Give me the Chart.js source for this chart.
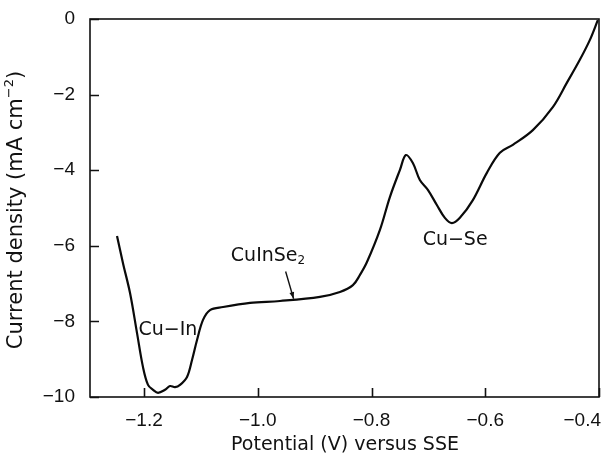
<!DOCTYPE html>
<html>
<head>
<meta charset="utf-8">
<script src="https://cdn.jsdelivr.net/npm/chart.js@4.4.1/dist/chart.umd.min.js"></script>
<style>
  html, body { margin: 0; padding: 0; background: #fff; }
  #wrap { width: 611px; height: 460px; }
</style>
</head>
<body>
<div id="wrap"><canvas id="c" width="611" height="460"></canvas></div>
<script>
// Potential (V vs SSE) and current density (mA cm^-2) of the voltammetric sweep
const potential = [
  -1.2475, -1.237, -1.2246, -1.2123, -1.2018, -1.193, -1.1842, -1.1754, -1.163,
  -1.1543, -1.1455, -1.1367, -1.1244, -1.1156, -1.1068, -1.0963, -1.084, -1.0612,
  -1.0137, -0.961, -0.8907, -0.8555, -0.8327, -0.8203, -0.808, -0.7852, -0.7677,
  -0.75, -0.7395, -0.7273, -0.715, -0.7009, -0.6851, -0.671, -0.6587, -0.6446,
  -0.6218, -0.5972, -0.5743, -0.5515, -0.5163, -0.4812, -0.4566, -0.4337, -0.4162, -0.4021
];
const currentDensity = [
  -5.74, -6.46, -7.25, -8.31, -9.21, -9.68, -9.81, -9.89, -9.81,
  -9.71, -9.74, -9.68, -9.47, -9.02, -8.49, -7.96, -7.70, -7.62,
  -7.51, -7.46, -7.35, -7.22, -7.04, -6.77, -6.43, -5.58, -4.71,
  -3.99, -3.60, -3.81, -4.26, -4.52, -4.92, -5.26, -5.40, -5.26,
  -4.79, -4.07, -3.54, -3.33, -2.94, -2.33, -1.69, -1.08, -0.56, -0.03
];
const xTicks = [-1.2, -1.0, -0.8, -0.6, -0.4];
const yTicks = [0, -2, -4, -6, -8, -10];

// Phase labels: text and anchor position in data units
const phaseNames = ['Cu\u2212In', 'Cu\u2212Se'];
const phaseX = [-1.158, -0.653];
const phaseY = [-8.22, -5.85];

const minus = v => (v < 0 ? '\u2212' : '');
const fmtX = v => minus(v) + Math.abs(v).toFixed(1);
const fmtY = v => minus(v) + Math.abs(v).toFixed(0);
const TICK_FONT = '"Liberation Sans", Arial, Helvetica, sans-serif';
const TEXT_FONT = '"DejaVu Sans", "Liberation Sans", Arial, sans-serif';

const frame = {
  id: 'frame',
  afterDraw(chart) {
    const { ctx, chartArea: a, scales: { x, y } } = chart;
    ctx.save();
    ctx.strokeStyle = '#111';
    ctx.lineWidth = 1.6;
    ctx.strokeRect(a.left, a.top, a.right - a.left, a.bottom - a.top);
    // inward tick marks
    ctx.beginPath();
    xTicks.forEach(v => {
      const px = Math.round(x.getPixelForValue(v)) + 0.5;
      ctx.moveTo(px, a.bottom); ctx.lineTo(px, a.bottom - 9);
    });
    yTicks.forEach(v => {
      const py = Math.round(y.getPixelForValue(v)) + 0.5;
      ctx.moveTo(a.left, py); ctx.lineTo(a.left + 9, py);
    });
    ctx.stroke();

    ctx.fillStyle = '#111';
    ctx.textBaseline = 'middle';

    // x tick labels: centred under the tick, the last one kept inside the frame
    ctx.font = '19px ' + TICK_FONT;
    xTicks.forEach((v, i) => {
      const last = i === xTicks.length - 1;
      ctx.textAlign = last ? 'right' : 'center';
      ctx.fillText(fmtX(v), x.getPixelForValue(v) + (last ? 2 : 0), a.bottom + 24);
    });

    ctx.textAlign = 'center';
    // axis titles
    ctx.font = '19px ' + TEXT_FONT;
    ctx.fillText('Potential (V) versus SSE', 345, 445);
    ctx.save();
    ctx.translate(17, 210);
    ctx.rotate(-Math.PI / 2);
    ctx.textAlign = 'left';
    const base = 'Current density (mA cm';
    ctx.font = '21px ' + TEXT_FONT;
    const wBase = ctx.measureText(base).width;
    ctx.font = '13px ' + TEXT_FONT;
    const wSup = ctx.measureText('\u22122').width;
    ctx.font = '21px ' + TEXT_FONT;
    const wEnd = ctx.measureText(')').width;
    const sx = -(wBase + wSup + wEnd) / 2;
    ctx.fillText(base, sx, 0);
    ctx.font = '13px ' + TEXT_FONT;
    ctx.fillText('\u22122', sx + wBase, -7);
    ctx.font = '21px ' + TEXT_FONT;
    ctx.fillText(')', sx + wBase + wSup, 0);
    ctx.restore();

    // phase labels
    ctx.font = '19px ' + TEXT_FONT;
    phaseNames.forEach((t, i) => {
      ctx.fillText(t, x.getPixelForValue(phaseX[i]), y.getPixelForValue(phaseY[i]));
    });
    // CuInSe2 label with subscript and arrow to the plateau
    const lx = x.getPixelForValue(-0.982), ly = y.getPixelForValue(-6.27);
    ctx.textAlign = 'left';
    const wMain = ctx.measureText('CuInSe').width;
    ctx.font = '12px ' + TEXT_FONT;
    const wSub = ctx.measureText('2').width;
    const sx2 = lx - (wMain + wSub) / 2;
    ctx.font = '19px ' + TEXT_FONT;
    ctx.fillText('CuInSe', sx2, ly);
    ctx.font = '12px ' + TEXT_FONT;
    ctx.fillText('2', sx2 + wMain, ly + 5);

    const ax0 = x.getPixelForValue(-0.951), ay0 = y.getPixelForValue(-6.68);
    const ax1 = x.getPixelForValue(-0.937), ay1 = y.getPixelForValue(-7.40);
    ctx.lineWidth = 1.4;
    ctx.beginPath();
    ctx.moveTo(ax0, ay0); ctx.lineTo(ax1, ay1);
    ctx.stroke();
    const ang = Math.atan2(ay1 - ay0, ax1 - ax0);
    ctx.beginPath();
    ctx.moveTo(ax1, ay1);
    ctx.lineTo(ax1 - 7 * Math.cos(ang - 0.35), ay1 - 7 * Math.sin(ang - 0.35));
    ctx.lineTo(ax1 - 7 * Math.cos(ang + 0.35), ay1 - 7 * Math.sin(ang + 0.35));
    ctx.closePath();
    ctx.fill();
    ctx.restore();
  }
};

new Chart(document.getElementById('c'), {
  type: 'line',
  data: {
    datasets: [{
      data: potential.map((p, i) => ({ x: p, y: currentDensity[i] })),
      borderColor: '#0a0a0a',
      borderWidth: 2.2,
      pointRadius: 0,
      tension: 0.35,
      fill: false
    }]
  },
  options: {
    responsive: false,
    animation: false,
    layout: { padding: { top: 19, right: 12, left: 0, bottom: 0 } },
    plugins: { legend: { display: false }, tooltip: { enabled: false } },
    scales: {
      x: {
        type: 'linear',
        min: -1.295,
        max: -0.4,
        afterBuildTicks: s => { s.ticks = xTicks.map(v => ({ value: v })); },
        afterFit: s => { s.height = 63; s.paddingLeft = 0; s.paddingRight = 0; },
        grid: { display: false, drawTicks: false },
        border: { display: false },
        ticks: { display: false }
      },
      y: {
        type: 'linear',
        min: -10,
        max: 0,
        afterBuildTicks: s => { s.ticks = yTicks.map(v => ({ value: v })); },
        afterFit: s => { s.width = 90; s.paddingTop = 0; s.paddingBottom = 0; },
        grid: { display: false, drawTicks: false },
        border: { display: false },
        ticks: {
          padding: 15,
          color: '#111',
          font: { family: TICK_FONT, size: 19 },
          callback: v => fmtY(v)
        }
      }
    }
  },
  plugins: [frame]
});
</script>
</body>
</html>
